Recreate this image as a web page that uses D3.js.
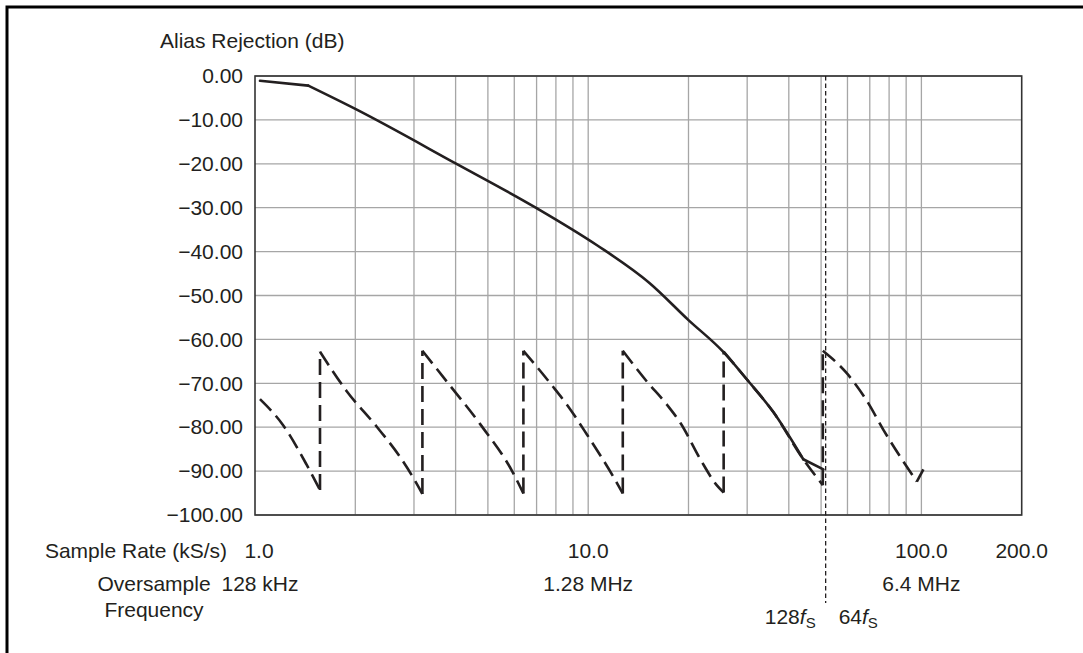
<!DOCTYPE html>
<html>
<head>
<meta charset="utf-8" />
<title>Alias Rejection</title>
<style>
  body { margin: 0; background: #fff; }
  text { font-family: "Liberation Sans", Arial, Helvetica, sans-serif; fill: #231f20; }
</style>
</head>
<body>
<script src="https://cdnjs.cloudflare.com/ajax/libs/d3/7.8.5/d3.min.js"></script>
<script>
var width = 1083,
    height = 653;

// y ticks (dB)
var yTicks = [0, -10, -20, -30, -40, -50, -60, -70, -80, -90, -100];
// vertical grid lines (kS/s)
var xGrid = [2, 3, 4, 5, 6, 7, 8, 9, 10, 20, 30, 40, 50, 60, 70, 80, 90, 100];
// sample rate labels
var rateTicks = [1, 10, 100, 200];
var rateLabels = ['1.0', '10.0', '100.0', '200.0'];
// oversample frequency labels
var overTicks = [1, 10, 100];
var overLabels = ['128 kHz', '1.28 MHz', '6.4 MHz'];
// 128fs / 64fs boundary
var boundaryRate = 51.6;

// solid curve: [sample rate, dB]
var rejection = [
  [1.035, -1.1], [1.445, -2.2], [2.0, -7.5], [4.0, -19.9], [7.0, -30.1],
  [10.6, -38.5], [15.3, -47.2], [20, -55.6], [25.4, -62.8], [30, -69.2],
  [35.9, -76.5], [44.2, -87.3], [50.8, -89.6]
];

// dashed sawtooth, one array per tooth: [sample rate, dB]
var saw1 = [[1.035, -73.6], [1.216, -79.6], [1.43, -88.6], [1.567, -94.3]];
var saw2 = [[1.567, -62.8], [1.885, -71.8], [2.32, -79.9], [2.72, -86.7], [2.99, -91.6], [3.18, -95.2]];
var saw3 = [[3.18, -62.6], [3.80, -70.0], [4.74, -79.3], [5.96, -90.5], [6.39, -95.1]];
var saw4 = [[6.39, -62.6], [7.77, -70.4], [8.62, -74.8], [9.90, -81.6], [11.9, -91.3], [12.7, -95.1]];
var saw5 = [[12.7, -62.6], [15.0, -69.6], [17.2, -74.8], [18.9, -79.0], [21.7, -87.3], [24.3, -93.2], [25.5, -94.9]];
var saw6 = [[25.5, -62.8], [30, -69.2], [35.9, -76.5], [44.2, -87.3], [50.6, -93.2]];
var saw7 = [[50.6, -62.6], [59.7, -67.7], [68.6, -74.0], [76.9, -80.6], [96.9, -92.4]];
var sawTail = [[96.9, -92.4], [101.4, -89.6]];
var sawTeeth = [saw1, saw2, saw3, saw4, saw5, saw6, saw7];

var svg = d3.select('body').append('svg')
    .attr('width', width)
    .attr('height', height);

// outer frame (only top/left edges visible)
svg.append('rect')
    .attr('x', 7).attr('y', 7)
    .attr('width', 1200).attr('height', 800)
    .attr('fill', 'none')
    .attr('stroke', '#000')
    .attr('stroke-width', 3);

var x = d3.scaleLog().domain([1, 200]).range([255, 1021.7]);
var y = d3.scaleLinear().domain([-100, 0]).range([515, 76]);

// grid
svg.selectAll('.hgrid')
    .data(yTicks)
  .enter().append('line')
    .attr('class', 'hgrid')
    .attr('x1', x(1)).attr('x2', x(200))
    .attr('y1', function(d) { return y(d); })
    .attr('y2', function(d) { return y(d); })
    .attr('stroke', '#a6a6a6')
    .attr('stroke-width', 1.3);

svg.selectAll('.vgrid')
    .data(xGrid)
  .enter().append('line')
    .attr('class', 'vgrid')
    .attr('x1', function(d) { return x(d); })
    .attr('x2', function(d) { return x(d); })
    .attr('y1', y(0)).attr('y2', y(-100))
    .attr('stroke', '#a6a6a6')
    .attr('stroke-width', 1.3);

svg.append('rect')
    .attr('x', x(1)).attr('y', y(0))
    .attr('width', x(200) - x(1))
    .attr('height', y(-100) - y(0))
    .attr('fill', 'none')
    .attr('stroke', '#333')
    .attr('stroke-width', 1.6);

// y axis labels
var yAxis = d3.axisLeft(y)
    .tickValues(yTicks)
    .tickSize(0)
    .tickPadding(12)
    .tickFormat(function(d) { return d === 0 ? '0.00' : '\u2212' + Math.abs(d).toFixed(2); });

var gy = svg.append('g')
    .attr('transform', 'translate(' + x(1) + ',0)')
    .call(yAxis);
gy.select('.domain').remove();
gy.selectAll('text')
    .attr('font-size', 21)
    .attr('font-family', '"Liberation Sans", Arial, sans-serif')
    .attr('fill', '#231f20');

svg.append('text')
    .attr('x', 160).attr('y', 48)
    .attr('font-size', 21)
    .text('Alias Rejection (dB)');

// x labels
svg.append('text')
    .attr('x', 227).attr('y', 557.5)
    .attr('font-size', 21)
    .attr('text-anchor', 'end')
    .text('Sample Rate (kS/s)');

svg.selectAll('.rate')
    .data(rateTicks)
  .enter().append('text')
    .attr('class', 'rate')
    .attr('x', function(d, i) { return x(d) + (i === 0 ? 4 : 0); })
    .attr('y', 557.5)
    .attr('font-size', 21)
    .attr('text-anchor', 'middle')
    .text(function(d, i) { return rateLabels[i]; });

svg.append('text')
    .attr('x', 154).attr('y', 590.5)
    .attr('font-size', 21)
    .attr('text-anchor', 'middle')
    .text('Oversample');
svg.append('text')
    .attr('x', 154).attr('y', 616.5)
    .attr('font-size', 21)
    .attr('text-anchor', 'middle')
    .text('Frequency');

svg.selectAll('.over')
    .data(overTicks)
  .enter().append('text')
    .attr('class', 'over')
    .attr('x', function(d, i) { return x(d) + (i === 0 ? 5 : 0); })
    .attr('y', 590.5)
    .attr('font-size', 21)
    .attr('text-anchor', 'middle')
    .text(function(d, i) { return overLabels[i]; });

// boundary marker
svg.append('line')
    .attr('x1', x(boundaryRate)).attr('x2', x(boundaryRate))
    .attr('y1', y(0)).attr('y2', 603)
    .attr('stroke', '#231f20')
    .attr('stroke-width', 1.3)
    .attr('stroke-dasharray', '4.5,3');

function fsLabel(xpos, anchor, num) {
    var t = svg.append('text')
        .attr('x', xpos).attr('y', 624)
        .attr('font-size', 21)
        .attr('text-anchor', anchor);
    t.append('tspan').text(num);
    t.append('tspan').attr('font-style', 'italic').text('f');
    t.append('tspan').attr('font-size', 15).attr('dy', 4).text('S');
}
fsLabel(x(boundaryRate) - 10, 'end', '128');
fsLabel(x(boundaryRate) + 13, 'start', '64');

// curves
var curve = d3.line()
    .x(function(d) { return x(d[0]); })
    .y(function(d) { return y(d[1]); })
    .curve(d3.curveMonotoneX);

var straight = d3.line()
    .x(function(d) { return x(d[0]); })
    .y(function(d) { return y(d[1]); });

var dashStyle = function(sel) {
    sel.attr('fill', 'none')
        .attr('stroke', '#231f20')
        .attr('stroke-width', 2.6)
        .attr('stroke-dasharray', '16,7');
};

// descending parts of each tooth
svg.selectAll('.tooth')
    .data(sawTeeth)
  .enter().append('path')
    .attr('class', 'tooth')
    .attr('d', curve)
    .call(dashStyle);

// vertical jumps between teeth
svg.selectAll('.jump')
    .data(sawTeeth.slice(1))
  .enter().append('path')
    .attr('class', 'jump')
    .attr('d', function(d, i) {
        var prev = sawTeeth[i];
        return straight([prev[prev.length - 1], d[0]]);
    })
    .call(dashStyle);

svg.append('path')
    .datum(sawTail)
    .attr('d', straight)
    .call(dashStyle)
    .attr('stroke-dasharray', null);

// solid curve: sharp knees at both ends, smooth in between
var n = rejection.length;
var solidParts = [
    { pts: rejection.slice(0, 2), gen: straight },
    { pts: rejection.slice(1, n - 1), gen: curve },
    { pts: rejection.slice(n - 2), gen: straight }
];
svg.selectAll('.solid')
    .data(solidParts)
  .enter().append('path')
    .attr('class', 'solid')
    .attr('d', function(d) { return d.gen(d.pts); })
    .attr('fill', 'none')
    .attr('stroke', '#231f20')
    .attr('stroke-width', 2.6)
    .attr('stroke-linecap', 'round');
</script>
</body>
</html>
